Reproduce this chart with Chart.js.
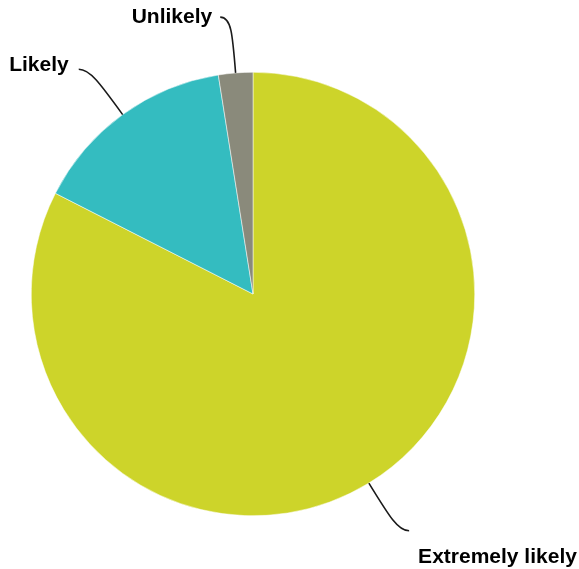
<!DOCTYPE html>
<html>
<head>
<meta charset="utf-8">
<script src="https://cdn.jsdelivr.net/npm/chart.js@4"></script>
<style>
  html, body { margin: 0; padding: 0; background: #fff; }
  #wrap { width: 579px; height: 569px; }
</style>
</head>
<body>
<div id="wrap"><canvas id="chart"></canvas></div>
<script>
const labels = ['Extremely likely', 'Likely', 'Unlikely'];
const values = [82.5, 15, 2.5];
const colors = ['#cdd42a', '#34bcc0', '#8a8a7b'];

// where each label sits relative to the end of its leader line
const labelOffsets = [
    { dx: 9, dy: 26, align: 'left' },
    { dx: -10, dy: -4, align: 'right' },
    { dx: -8, dy: 0, align: 'right' }
];

const leaderLabels = {
    id: 'leaderLabels',
    afterDatasetsDraw(chart) {
        const ctx = chart.ctx;
        const meta = chart.getDatasetMeta(0);
        ctx.save();
        meta.data.forEach((arc, i) => {
            const mid = (arc.startAngle + arc.endAngle) / 2;
            const cx = arc.x, cy = arc.y, r = arc.outerRadius;
            const cos = Math.cos(mid), sin = Math.sin(mid);
            const sx = cx + cos * r, sy = cy + sin * r;
            const c1x = cx + cos * (r + 40), c1y = cy + sin * (r + 40);
            const c2x = cx + cos * (r + 56), c2y = cy + sin * (r + 56);
            const dir = cos >= 0 ? 1 : -1;
            const ex = c2x + dir * 11, ey = c2y;

            ctx.beginPath();
            ctx.moveTo(sx, sy);
            ctx.bezierCurveTo(c1x, c1y, c2x, c2y, ex, ey);
            ctx.strokeStyle = '#1a1a1a';
            ctx.lineWidth = 1.6;
            ctx.stroke();

            const o = labelOffsets[i];
            ctx.font = 'bold 21px "Liberation Sans", Arial, sans-serif';
            ctx.fillStyle = '#000';
            ctx.textAlign = o.align;
            ctx.textBaseline = 'middle';
            ctx.fillText(chart.data.labels[i], ex + o.dx, ey + o.dy);
        });
        ctx.restore();
    }
};

new Chart(document.getElementById('chart'), {
    type: 'pie',
    data: {
        labels: labels,
        datasets: [{
            data: values,
            backgroundColor: colors,
            borderColor: '#ffffff',
            borderWidth: 0.5
        }]
    },
    options: {
        responsive: true,
        maintainAspectRatio: false,
        animation: false,
        layout: {
            padding: { top: 72, bottom: 53, left: 31, right: 104 }
        },
        plugins: {
            legend: { display: false },
            tooltip: { enabled: false }
        }
    },
    plugins: [leaderLabels]
});
</script>
</body>
</html>
